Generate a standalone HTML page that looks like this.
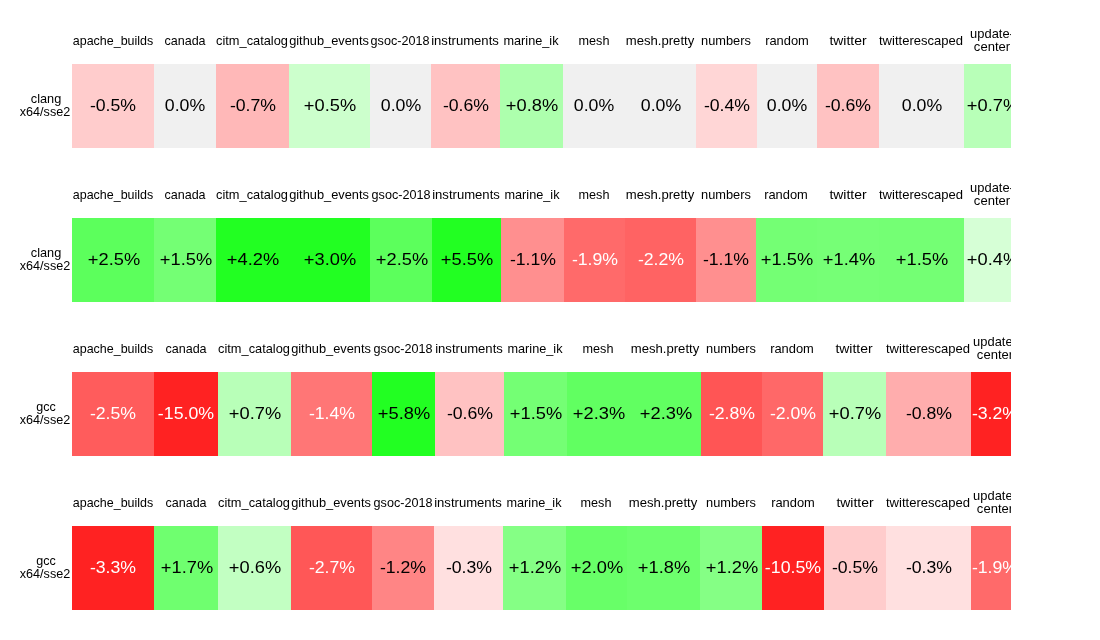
<!DOCTYPE html>
<html><head><meta charset="utf-8"><title>benchmark heatmap</title>
<style>
html,body{margin:0;padding:0;background:#fff;}
body{width:1100px;height:640px;position:relative;overflow:hidden;font-family:"Liberation Sans",sans-serif;color:#000;}
#clip{position:absolute;left:0;top:0;width:1011px;height:640px;overflow:hidden;}
.c{position:absolute;height:84px;}
.t{position:absolute;white-space:nowrap;line-height:1;transform-origin:50% 50%;text-align:center;}
.v{font-size:16.6px;}
.h,.l{font-size:12.4px;}
#txt{position:absolute;left:0;top:0;width:1011px;height:640px;overflow:hidden;will-change:transform;}
</style></head><body><div id="clip">
<div class="c" style="left:72px;top:64px;width:82px;background:#ffcccc"></div>
<div class="c" style="left:154px;top:64px;width:62px;background:#f0f0f0"></div>
<div class="c" style="left:216px;top:64px;width:73px;background:#ffb8b8"></div>
<div class="c" style="left:289px;top:64px;width:81px;background:#ccffcc"></div>
<div class="c" style="left:370px;top:64px;width:61px;background:#f0f0f0"></div>
<div class="c" style="left:431px;top:64px;width:69px;background:#ffc2c2"></div>
<div class="c" style="left:500px;top:64px;width:63px;background:#adffad"></div>
<div class="c" style="left:563px;top:64px;width:62px;background:#f0f0f0"></div>
<div class="c" style="left:625px;top:64px;width:71px;background:#f0f0f0"></div>
<div class="c" style="left:696px;top:64px;width:61px;background:#ffd6d6"></div>
<div class="c" style="left:757px;top:64px;width:60px;background:#f0f0f0"></div>
<div class="c" style="left:817px;top:64px;width:62px;background:#ffc2c2"></div>
<div class="c" style="left:879px;top:64px;width:85px;background:#f0f0f0"></div>
<div class="c" style="left:964px;top:64px;width:56px;background:#b8ffb8"></div>
<div class="c" style="left:72px;top:218px;width:82px;background:#5cff5c"></div>
<div class="c" style="left:154px;top:218px;width:62px;background:#74ff74"></div>
<div class="c" style="left:216px;top:218px;width:73px;background:#22ff22"></div>
<div class="c" style="left:289px;top:218px;width:81px;background:#22ff22"></div>
<div class="c" style="left:370px;top:218px;width:62px;background:#5cff5c"></div>
<div class="c" style="left:432px;top:218px;width:69px;background:#22ff22"></div>
<div class="c" style="left:501px;top:218px;width:63px;background:#ff8f8f"></div>
<div class="c" style="left:564px;top:218px;width:61px;background:#ff6a6a"></div>
<div class="c" style="left:625px;top:218px;width:71px;background:#ff6363"></div>
<div class="c" style="left:696px;top:218px;width:60px;background:#ff8f8f"></div>
<div class="c" style="left:756px;top:218px;width:61px;background:#74ff74"></div>
<div class="c" style="left:817px;top:218px;width:62px;background:#76ff76"></div>
<div class="c" style="left:879px;top:218px;width:85px;background:#74ff74"></div>
<div class="c" style="left:964px;top:218px;width:56px;background:#d6ffd6"></div>
<div class="c" style="left:72px;top:372px;width:82px;background:#ff5c5c"></div>
<div class="c" style="left:154px;top:372px;width:64px;background:#ff2222"></div>
<div class="c" style="left:218px;top:372px;width:73px;background:#b8ffb8"></div>
<div class="c" style="left:291px;top:372px;width:81px;background:#ff7676"></div>
<div class="c" style="left:372px;top:372px;width:63px;background:#22ff22"></div>
<div class="c" style="left:435px;top:372px;width:69px;background:#ffc2c2"></div>
<div class="c" style="left:504px;top:372px;width:63px;background:#74ff74"></div>
<div class="c" style="left:567px;top:372px;width:63px;background:#61ff61"></div>
<div class="c" style="left:630px;top:372px;width:71px;background:#61ff61"></div>
<div class="c" style="left:701px;top:372px;width:61px;background:#ff5555"></div>
<div class="c" style="left:762px;top:372px;width:61px;background:#ff6868"></div>
<div class="c" style="left:823px;top:372px;width:63px;background:#b8ffb8"></div>
<div class="c" style="left:886px;top:372px;width:85px;background:#ffadad"></div>
<div class="c" style="left:971px;top:372px;width:48px;background:#ff2222"></div>
<div class="c" style="left:72px;top:526px;width:82px;background:#ff2222"></div>
<div class="c" style="left:154px;top:526px;width:64px;background:#6fff6f"></div>
<div class="c" style="left:218px;top:526px;width:73px;background:#c2ffc2"></div>
<div class="c" style="left:291px;top:526px;width:81px;background:#ff5757"></div>
<div class="c" style="left:372px;top:526px;width:62px;background:#ff8585"></div>
<div class="c" style="left:434px;top:526px;width:69px;background:#ffe0e0"></div>
<div class="c" style="left:503px;top:526px;width:63px;background:#85ff85"></div>
<div class="c" style="left:566px;top:526px;width:61px;background:#68ff68"></div>
<div class="c" style="left:627px;top:526px;width:73px;background:#6dff6d"></div>
<div class="c" style="left:700px;top:526px;width:62px;background:#85ff85"></div>
<div class="c" style="left:762px;top:526px;width:62px;background:#ff2222"></div>
<div class="c" style="left:824px;top:526px;width:62px;background:#ffcccc"></div>
<div class="c" style="left:886px;top:526px;width:85px;background:#ffe0e0"></div>
<div class="c" style="left:971px;top:526px;width:48px;background:#ff6a6a"></div>
</div><div id="txt">
<div class="t v" style="left:113.00px;top:98px;transform:translateX(-50%) scaleX(1.0652);">-0.5%</div>
<div class="t v" style="left:185.00px;top:98px;transform:translateX(-50%) scaleX(1.0690);">0.0%</div>
<div class="t v" style="left:252.50px;top:98px;transform:translateX(-50%) scaleX(1.0652);">-0.7%</div>
<div class="t v" style="left:330.40px;top:98px;transform:translateX(-50%) scaleX(1.1009);">+0.5%</div>
<div class="t v" style="left:400.50px;top:98px;transform:translateX(-50%) scaleX(1.0690);">0.0%</div>
<div class="t v" style="left:465.50px;top:98px;transform:translateX(-50%) scaleX(1.0652);">-0.6%</div>
<div class="t v" style="left:532.40px;top:98px;transform:translateX(-50%) scaleX(1.1009);">+0.8%</div>
<div class="t v" style="left:594.00px;top:98px;transform:translateX(-50%) scaleX(1.0690);">0.0%</div>
<div class="t v" style="left:660.50px;top:98px;transform:translateX(-50%) scaleX(1.0690);">0.0%</div>
<div class="t v" style="left:726.50px;top:98px;transform:translateX(-50%) scaleX(1.0652);">-0.4%</div>
<div class="t v" style="left:787.00px;top:98px;transform:translateX(-50%) scaleX(1.0690);">0.0%</div>
<div class="t v" style="left:848.00px;top:98px;transform:translateX(-50%) scaleX(1.0652);">-0.6%</div>
<div class="t v" style="left:921.50px;top:98px;transform:translateX(-50%) scaleX(1.0690);">0.0%</div>
<div class="t v" style="left:992.90px;top:98px;transform:translateX(-50%) scaleX(1.1009);">+0.7%</div>
<div class="t h" style="left:112.70px;top:35px;transform:translateX(-50%) scaleX(1.0066);">apache_builds</div>
<div class="t h" style="left:184.70px;top:35px;transform:translateX(-50%) scaleX(1.0136);">canada</div>
<div class="t h" style="left:252.20px;top:35px;transform:translateX(-50%) scaleX(1.0345);">citm_catalog</div>
<div class="t h" style="left:329.20px;top:35px;transform:translateX(-50%) scaleX(1.0334);">github_events</div>
<div class="t h" style="left:400.20px;top:35px;transform:translateX(-50%) scaleX(1.0171);">gsoc-2018</div>
<div class="t h" style="left:465.20px;top:35px;transform:translateX(-50%) scaleX(1.0568);">instruments</div>
<div class="t h" style="left:531.20px;top:35px;transform:translateX(-50%) scaleX(1.0241);">marine_ik</div>
<div class="t h" style="left:593.70px;top:35px;transform:translateX(-50%) scaleX(1.0205);">mesh</div>
<div class="t h" style="left:660.20px;top:35px;transform:translateX(-50%) scaleX(1.0579);">mesh.pretty</div>
<div class="t h" style="left:726.20px;top:35px;transform:translateX(-50%) scaleX(1.0340);">numbers</div>
<div class="t h" style="left:786.70px;top:35px;transform:translateX(-50%) scaleX(1.0402);">random</div>
<div class="t h" style="left:847.70px;top:35px;transform:translateX(-50%) scaleX(1.1247);">twitter</div>
<div class="t h" style="left:921.20px;top:35px;transform:translateX(-50%) scaleX(1.0522);">twitterescaped</div>
<div class="t h" style="left:991.70px;top:28px;transform:translateX(-50%) scaleX(1.0415);">update-</div>
<div class="t h" style="left:991.70px;top:41px;transform:translateX(-50%) scaleX(1.0527);">center</div>
<div class="t l" style="left:45.80px;top:93px;transform:translateX(-50%) scaleX(1.0275);">clang</div>
<div class="t l" style="left:45.30px;top:106px;transform:translateX(-50%) scaleX(1.0182);">x64/sse2</div>
<div class="t v" style="left:113.90px;top:252px;transform:translateX(-50%) scaleX(1.1009);">+2.5%</div>
<div class="t v" style="left:185.90px;top:252px;transform:translateX(-50%) scaleX(1.1009);">+1.5%</div>
<div class="t v" style="left:253.40px;top:252px;transform:translateX(-50%) scaleX(1.1009);">+4.2%</div>
<div class="t v" style="left:330.40px;top:252px;transform:translateX(-50%) scaleX(1.1009);">+3.0%</div>
<div class="t v" style="left:401.90px;top:252px;transform:translateX(-50%) scaleX(1.1009);">+2.5%</div>
<div class="t v" style="left:467.40px;top:252px;transform:translateX(-50%) scaleX(1.1009);">+5.5%</div>
<div class="t v" style="left:532.50px;top:252px;transform:translateX(-50%) scaleX(1.0652);">-1.1%</div>
<div class="t v" style="left:594.50px;top:252px;transform:translateX(-50%) scaleX(1.0652);color:#fff;">-1.9%</div>
<div class="t v" style="left:660.50px;top:252px;transform:translateX(-50%) scaleX(1.0652);color:#fff;">-2.2%</div>
<div class="t v" style="left:726.00px;top:252px;transform:translateX(-50%) scaleX(1.0652);">-1.1%</div>
<div class="t v" style="left:787.40px;top:252px;transform:translateX(-50%) scaleX(1.1009);">+1.5%</div>
<div class="t v" style="left:848.90px;top:252px;transform:translateX(-50%) scaleX(1.1009);">+1.4%</div>
<div class="t v" style="left:922.40px;top:252px;transform:translateX(-50%) scaleX(1.1009);">+1.5%</div>
<div class="t v" style="left:992.90px;top:252px;transform:translateX(-50%) scaleX(1.1009);">+0.4%</div>
<div class="t h" style="left:112.70px;top:189px;transform:translateX(-50%) scaleX(1.0066);">apache_builds</div>
<div class="t h" style="left:184.70px;top:189px;transform:translateX(-50%) scaleX(1.0136);">canada</div>
<div class="t h" style="left:252.20px;top:189px;transform:translateX(-50%) scaleX(1.0345);">citm_catalog</div>
<div class="t h" style="left:329.20px;top:189px;transform:translateX(-50%) scaleX(1.0334);">github_events</div>
<div class="t h" style="left:400.70px;top:189px;transform:translateX(-50%) scaleX(1.0171);">gsoc-2018</div>
<div class="t h" style="left:466.20px;top:189px;transform:translateX(-50%) scaleX(1.0568);">instruments</div>
<div class="t h" style="left:532.20px;top:189px;transform:translateX(-50%) scaleX(1.0241);">marine_ik</div>
<div class="t h" style="left:594.20px;top:189px;transform:translateX(-50%) scaleX(1.0205);">mesh</div>
<div class="t h" style="left:660.20px;top:189px;transform:translateX(-50%) scaleX(1.0579);">mesh.pretty</div>
<div class="t h" style="left:725.70px;top:189px;transform:translateX(-50%) scaleX(1.0340);">numbers</div>
<div class="t h" style="left:786.20px;top:189px;transform:translateX(-50%) scaleX(1.0402);">random</div>
<div class="t h" style="left:847.70px;top:189px;transform:translateX(-50%) scaleX(1.1247);">twitter</div>
<div class="t h" style="left:921.20px;top:189px;transform:translateX(-50%) scaleX(1.0522);">twitterescaped</div>
<div class="t h" style="left:991.70px;top:182px;transform:translateX(-50%) scaleX(1.0415);">update-</div>
<div class="t h" style="left:991.70px;top:195px;transform:translateX(-50%) scaleX(1.0527);">center</div>
<div class="t l" style="left:45.80px;top:247px;transform:translateX(-50%) scaleX(1.0275);">clang</div>
<div class="t l" style="left:45.30px;top:260px;transform:translateX(-50%) scaleX(1.0182);">x64/sse2</div>
<div class="t v" style="left:113.00px;top:406px;transform:translateX(-50%) scaleX(1.0652);color:#fff;">-2.5%</div>
<div class="t v" style="left:186.00px;top:406px;transform:translateX(-50%) scaleX(1.0708);color:#fff;">-15.0%</div>
<div class="t v" style="left:255.40px;top:406px;transform:translateX(-50%) scaleX(1.1009);">+0.7%</div>
<div class="t v" style="left:331.50px;top:406px;transform:translateX(-50%) scaleX(1.0652);color:#fff;">-1.4%</div>
<div class="t v" style="left:404.40px;top:406px;transform:translateX(-50%) scaleX(1.1009);">+5.8%</div>
<div class="t v" style="left:469.50px;top:406px;transform:translateX(-50%) scaleX(1.0652);">-0.6%</div>
<div class="t v" style="left:536.40px;top:406px;transform:translateX(-50%) scaleX(1.1009);">+1.5%</div>
<div class="t v" style="left:599.40px;top:406px;transform:translateX(-50%) scaleX(1.1009);">+2.3%</div>
<div class="t v" style="left:666.40px;top:406px;transform:translateX(-50%) scaleX(1.1009);">+2.3%</div>
<div class="t v" style="left:731.50px;top:406px;transform:translateX(-50%) scaleX(1.0652);color:#fff;">-2.8%</div>
<div class="t v" style="left:792.50px;top:406px;transform:translateX(-50%) scaleX(1.0652);color:#fff;">-2.0%</div>
<div class="t v" style="left:855.40px;top:406px;transform:translateX(-50%) scaleX(1.1009);">+0.7%</div>
<div class="t v" style="left:928.50px;top:406px;transform:translateX(-50%) scaleX(1.0652);">-0.8%</div>
<div class="t v" style="left:995.00px;top:406px;transform:translateX(-50%) scaleX(1.0652);color:#fff;">-3.2%</div>
<div class="t h" style="left:112.70px;top:343px;transform:translateX(-50%) scaleX(1.0066);">apache_builds</div>
<div class="t h" style="left:185.70px;top:343px;transform:translateX(-50%) scaleX(1.0136);">canada</div>
<div class="t h" style="left:254.20px;top:343px;transform:translateX(-50%) scaleX(1.0345);">citm_catalog</div>
<div class="t h" style="left:331.20px;top:343px;transform:translateX(-50%) scaleX(1.0334);">github_events</div>
<div class="t h" style="left:403.20px;top:343px;transform:translateX(-50%) scaleX(1.0171);">gsoc-2018</div>
<div class="t h" style="left:469.20px;top:343px;transform:translateX(-50%) scaleX(1.0568);">instruments</div>
<div class="t h" style="left:535.20px;top:343px;transform:translateX(-50%) scaleX(1.0241);">marine_ik</div>
<div class="t h" style="left:598.20px;top:343px;transform:translateX(-50%) scaleX(1.0205);">mesh</div>
<div class="t h" style="left:665.20px;top:343px;transform:translateX(-50%) scaleX(1.0579);">mesh.pretty</div>
<div class="t h" style="left:731.20px;top:343px;transform:translateX(-50%) scaleX(1.0340);">numbers</div>
<div class="t h" style="left:792.20px;top:343px;transform:translateX(-50%) scaleX(1.0402);">random</div>
<div class="t h" style="left:854.20px;top:343px;transform:translateX(-50%) scaleX(1.1247);">twitter</div>
<div class="t h" style="left:928.20px;top:343px;transform:translateX(-50%) scaleX(1.0522);">twitterescaped</div>
<div class="t h" style="left:994.70px;top:336px;transform:translateX(-50%) scaleX(1.0415);">update-</div>
<div class="t h" style="left:994.70px;top:349px;transform:translateX(-50%) scaleX(1.0527);">center</div>
<div class="t l" style="left:45.80px;top:401px;transform:translateX(-50%) scaleX(1.0106);">gcc</div>
<div class="t l" style="left:45.30px;top:414px;transform:translateX(-50%) scaleX(1.0182);">x64/sse2</div>
<div class="t v" style="left:113.00px;top:560px;transform:translateX(-50%) scaleX(1.0652);color:#fff;">-3.3%</div>
<div class="t v" style="left:186.90px;top:560px;transform:translateX(-50%) scaleX(1.1009);">+1.7%</div>
<div class="t v" style="left:255.40px;top:560px;transform:translateX(-50%) scaleX(1.1009);">+0.6%</div>
<div class="t v" style="left:331.50px;top:560px;transform:translateX(-50%) scaleX(1.0652);color:#fff;">-2.7%</div>
<div class="t v" style="left:403.00px;top:560px;transform:translateX(-50%) scaleX(1.0652);">-1.2%</div>
<div class="t v" style="left:468.50px;top:560px;transform:translateX(-50%) scaleX(1.0652);">-0.3%</div>
<div class="t v" style="left:535.40px;top:560px;transform:translateX(-50%) scaleX(1.1009);">+1.2%</div>
<div class="t v" style="left:597.40px;top:560px;transform:translateX(-50%) scaleX(1.1009);">+2.0%</div>
<div class="t v" style="left:664.40px;top:560px;transform:translateX(-50%) scaleX(1.1009);">+1.8%</div>
<div class="t v" style="left:731.90px;top:560px;transform:translateX(-50%) scaleX(1.1009);">+1.2%</div>
<div class="t v" style="left:793.00px;top:560px;transform:translateX(-50%) scaleX(1.0708);color:#fff;">-10.5%</div>
<div class="t v" style="left:855.00px;top:560px;transform:translateX(-50%) scaleX(1.0652);">-0.5%</div>
<div class="t v" style="left:928.50px;top:560px;transform:translateX(-50%) scaleX(1.0652);">-0.3%</div>
<div class="t v" style="left:995.00px;top:560px;transform:translateX(-50%) scaleX(1.0652);color:#fff;">-1.9%</div>
<div class="t h" style="left:112.70px;top:497px;transform:translateX(-50%) scaleX(1.0066);">apache_builds</div>
<div class="t h" style="left:185.70px;top:497px;transform:translateX(-50%) scaleX(1.0136);">canada</div>
<div class="t h" style="left:254.20px;top:497px;transform:translateX(-50%) scaleX(1.0345);">citm_catalog</div>
<div class="t h" style="left:331.20px;top:497px;transform:translateX(-50%) scaleX(1.0334);">github_events</div>
<div class="t h" style="left:402.70px;top:497px;transform:translateX(-50%) scaleX(1.0171);">gsoc-2018</div>
<div class="t h" style="left:468.20px;top:497px;transform:translateX(-50%) scaleX(1.0568);">instruments</div>
<div class="t h" style="left:534.20px;top:497px;transform:translateX(-50%) scaleX(1.0241);">marine_ik</div>
<div class="t h" style="left:596.20px;top:497px;transform:translateX(-50%) scaleX(1.0205);">mesh</div>
<div class="t h" style="left:663.20px;top:497px;transform:translateX(-50%) scaleX(1.0579);">mesh.pretty</div>
<div class="t h" style="left:730.70px;top:497px;transform:translateX(-50%) scaleX(1.0340);">numbers</div>
<div class="t h" style="left:792.70px;top:497px;transform:translateX(-50%) scaleX(1.0402);">random</div>
<div class="t h" style="left:854.70px;top:497px;transform:translateX(-50%) scaleX(1.1247);">twitter</div>
<div class="t h" style="left:928.20px;top:497px;transform:translateX(-50%) scaleX(1.0522);">twitterescaped</div>
<div class="t h" style="left:994.70px;top:490px;transform:translateX(-50%) scaleX(1.0415);">update-</div>
<div class="t h" style="left:994.70px;top:503px;transform:translateX(-50%) scaleX(1.0527);">center</div>
<div class="t l" style="left:45.80px;top:555px;transform:translateX(-50%) scaleX(1.0106);">gcc</div>
<div class="t l" style="left:45.30px;top:568px;transform:translateX(-50%) scaleX(1.0182);">x64/sse2</div>
</div></body></html>
